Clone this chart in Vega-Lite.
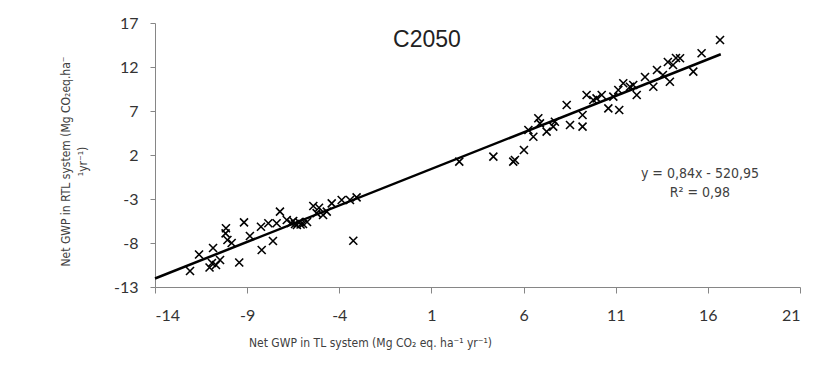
{
  "$schema": "https://vega.github.io/schema/vega-lite/v6.json",
  "width": 645,
  "height": 264,
  "autosize": {"type": "none"},
  "padding": {"left": 155, "top": 23, "right": 23, "bottom": 83},
  "background": "white",
  "config": {"view": {"stroke": null}, "font": "Liberation Sans"},
  "data": {
    "values": [
      {"x": -12.10, "y": -11.18}, {"x": -11.61, "y": -9.31}, {"x": -11.04, "y": -10.78},
      {"x": -10.91, "y": -10.27}, {"x": -10.85, "y": -8.57}, {"x": -10.47, "y": -9.93},
      {"x": -10.69, "y": -10.5}, {"x": -10.15, "y": -6.33}, {"x": -10.17, "y": -6.90},
      {"x": -10.07, "y": -7.66}, {"x": -9.84, "y": -8.0}, {"x": -9.43, "y": -10.22},
      {"x": -9.17, "y": -5.65}, {"x": -8.85, "y": -7.2}, {"x": -8.21, "y": -8.8},
      {"x": -8.25, "y": -6.15}, {"x": -7.85, "y": -5.76}, {"x": -7.6, "y": -7.77},
      {"x": -7.4, "y": -5.76}, {"x": -7.22, "y": -4.44}, {"x": -6.85, "y": -5.39},
      {"x": -6.62, "y": -5.73}, {"x": -6.40, "y": -5.84}, {"x": -6.19, "y": -5.61},
      {"x": -5.97, "y": -5.84}, {"x": -5.75, "y": -5.61}, {"x": -6.3, "y": -5.95},
      {"x": -6.5, "y": -5.5}, {"x": -6.1, "y": -5.9}, {"x": -5.41, "y": -3.8},
      {"x": -5.23, "y": -4.6}, {"x": -4.88, "y": -4.82}, {"x": -4.68, "y": -4.44},
      {"x": -4.41, "y": -3.49}, {"x": -3.87, "y": -3.11}, {"x": -3.42, "y": -3.11},
      {"x": -3.06, "y": -2.81}, {"x": -3.24, "y": -7.74}, {"x": -5.1, "y": -4.0},
      {"x": 2.51, "y": 1.24}, {"x": 4.36, "y": 1.81}, {"x": 5.44, "y": 1.24},
      {"x": 5.53, "y": 1.43}, {"x": 6.02, "y": 2.57}, {"x": 6.53, "y": 4.08},
      {"x": 6.26, "y": 4.84}, {"x": 6.8, "y": 6.17}, {"x": 6.89, "y": 5.6},
      {"x": 7.25, "y": 4.65}, {"x": 7.70, "y": 5.78}, {"x": 7.61, "y": 5.22},
      {"x": 8.52, "y": 5.41}, {"x": 8.34, "y": 7.68}, {"x": 9.2, "y": 5.22},
      {"x": 9.2, "y": 6.55}, {"x": 9.42, "y": 8.82}, {"x": 9.78, "y": 8.25},
      {"x": 9.96, "y": 8.44}, {"x": 10.24, "y": 8.82}, {"x": 10.6, "y": 7.3},
      {"x": 11.19, "y": 7.11}, {"x": 10.87, "y": 8.63}, {"x": 11.14, "y": 9.39},
      {"x": 11.41, "y": 10.15}, {"x": 12.14, "y": 8.82}, {"x": 11.95, "y": 9.95},
      {"x": 11.77, "y": 9.76}, {"x": 13.04, "y": 9.76}, {"x": 13.94, "y": 10.33},
      {"x": 12.59, "y": 10.86}, {"x": 13.24, "y": 11.66}, {"x": 13.56, "y": 11.09},
      {"x": 13.83, "y": 12.57}, {"x": 14.11, "y": 12.23}, {"x": 14.27, "y": 13.02},
      {"x": 14.49, "y": 12.99}, {"x": 15.21, "y": 11.47}, {"x": 15.66, "y": 13.56},
      {"x": 16.66, "y": 15.07}
    ]
  },
  "layer": [
    {
      "mark": {"type": "point", "shape": "M-1,-1L1,1M-1,1L1,-1", "filled": false, "stroke": "black", "strokeWidth": 1.6, "size": 64, "opacity": 1},
      "encoding": {
        "x": {
          "field": "x", "type": "quantitative",
          "scale": {"domain": [-14, 21], "nice": false, "zero": false},
          "axis": {
            "values": [-14, -9, -4, 1, 6, 11, 16, 21],
            "labelExpr": "replace(datum.label, '−', '-')",
            "grid": false,
            "domainColor": "#868686", "tickColor": "#868686",
            "tickSize": 6, "labelPadding": 14,
            "labelFont": "Lato", "labelFontSize": 16, "labelColor": "#333333",
            "title": "Net GWP in TL system (Mg CO₂ eq. ha⁻¹ yr⁻¹)",
            "titleFont": "DejaVu Sans Condensed, Liberation Sans, sans-serif", "titleFontSize": 12, "titleFontWeight": "normal",
            "titleColor": "#404040", "titleX": 215, "titleY": 55, "titleAlign": "center", "titleBaseline": "middle"
          }
        },
        "y": {
          "field": "y", "type": "quantitative",
          "scale": {"domain": [-13, 17], "nice": false, "zero": false},
          "axis": {
            "values": [-13, -8, -3, 2, 7, 12, 17],
            "labelExpr": "replace(datum.label, '−', '-')",
            "grid": false,
            "domainColor": "#868686", "tickColor": "#868686",
            "tickSize": 5, "labelPadding": 12,
            "labelFont": "Lato", "labelFontSize": 16, "labelColor": "#333333",
            "title": ["Net GWP in RTL system (Mg CO₂eq.ha⁻", "¹yr⁻¹)"],
            "titleFont": "DejaVu Sans Condensed, Liberation Sans, sans-serif", "titleFontSize": 12, "titleFontWeight": "normal",
            "titleColor": "#404040", "titleX": -95, "titleY": 138, "titleAngle": -90,
            "titleAlign": "center", "titleBaseline": "top", "titleLineHeight": 17
          }
        }
      }
    },
    {
      "transform": [{"regression": "y", "on": "x", "extent": [-14, 16.7]}],
      "mark": {"type": "line", "color": "black", "strokeWidth": 2.5},
      "encoding": {
        "x": {"field": "x", "type": "quantitative"},
        "y": {"field": "y", "type": "quantitative"}
      }
    },
    {
      "data": {"values": [{}]},
      "mark": {"type": "text", "text": "C2050", "font": "Liberation Sans", "fontSize": 23, "color": "#222222", "align": "center", "baseline": "alphabetic"},
      "encoding": {"x": {"datum": 0.76}, "y": {"datum": 14.27}}
    },
    {
      "data": {"values": [{}]},
      "mark": {"type": "text", "text": ["y = 0,84x - 520,95", "R² = 0,98"], "font": "DejaVu Sans Condensed, Liberation Sans, sans-serif", "fontSize": 14, "color": "#404040", "align": "center", "baseline": "middle", "lineHeight": 19},
      "encoding": {"x": {"datum": 15.57}, "y": {"datum": -0.2}}
    }
  ]
}
